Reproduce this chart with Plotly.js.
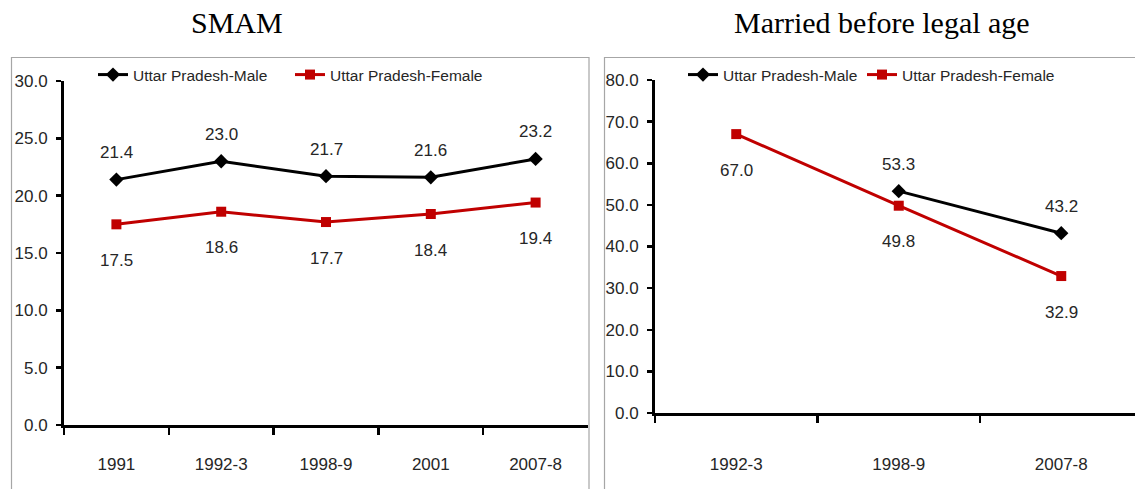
<!DOCTYPE html>
<html>
<head>
<meta charset="utf-8">
<script src="https://cdn.plot.ly/plotly-3.0.1.min.js"></script>
<style>
html,body{margin:0;padding:0;background:#fff;}
#chart{width:1135px;height:489px;}
</style>
</head>
<body>
<div id="chart"></div>
<script>
// ---- data ----
const titleLeft = 'SMAM';
const titleRight = 'Married before legal age';
const seriesNames = ['Uttar Pradesh-Male', 'Uttar Pradesh-Female'];

const catsLeft = ['1991', '1992-3', '1998-9', '2001', '2007-8'];
const maleLeft = [21.4, 23.0, 21.7, 21.6, 23.2];
const femaleLeft = [17.5, 18.6, 17.7, 18.4, 19.4];
const yTicksLeft = [0, 5, 10, 15, 20, 25, 30];

const catsRight = ['1992-3', '1998-9', '2007-8'];
const maleRight = [null, 53.3, 43.2];
const femaleRight = [67.0, 49.8, 32.9];
const yTicksRight = [0, 10, 20, 30, 40, 50, 60, 70, 80];

// ---- style ----
const W = 1135, H = 489;
const FONT = '"Liberation Sans", Arial, sans-serif';
const SERIF = '"Liberation Serif", "Times New Roman", serif';
const MALE_COLOR = '#000000';
const FEMALE_COLOR = '#c00000';
const px = v => v / W;
const py = v => (H - v) / H;

function fmt(v) { return v.toFixed(1); }

function mk(cats, vals, name, xa, ya, leg, color, symbol, size) {
  return { x: cats, y: vals, name: name, xaxis: xa, yaxis: ya, legend: leg,
    mode: 'lines+markers', line: { color: color, width: 3 }, connectgaps: false,
    marker: { symbol: symbol, size: size, color: color }, hoverinfo: 'skip' };
}

const traces = [
  mk(catsLeft, maleLeft, seriesNames[0], 'x', 'y', 'legend', MALE_COLOR, 'diamond', 11),
  mk(catsLeft, femaleLeft, seriesNames[1], 'x', 'y', 'legend2', FEMALE_COLOR, 'square', 10),
  mk(catsRight, maleRight, seriesNames[0], 'x2', 'y2', 'legend3', MALE_COLOR, 'diamond', 11),
  mk(catsRight, femaleRight, seriesNames[1], 'x2', 'y2', 'legend4', FEMALE_COLOR, 'square', 10)
];

const annotations = [];
function addLabels(cats, vals, xr, yr, shift) {
  cats.forEach((c, i) => {
    if (vals[i] === null) return;
    annotations.push({ x: i, y: vals[i], xref: xr, yref: yr, text: fmt(vals[i]),
      showarrow: false, yshift: shift, font: { family: FONT, size: 17, color: '#262626' } });
  });
}
addLabels(catsLeft, maleLeft, 'x', 'y', 27);
addLabels(catsLeft, femaleLeft, 'x', 'y', -36);
addLabels(catsRight, maleRight, 'x2', 'y2', 27);
addLabels(catsRight, femaleRight, 'x2', 'y2', -36);

// panel titles
annotations.push({ text: titleLeft, x: px(237), y: py(22), xref: 'paper', yref: 'paper',
  showarrow: false, xanchor: 'center', yanchor: 'middle',
  font: { family: SERIF, size: 30, color: '#000' } });
annotations.push({ text: titleRight, x: px(882), y: py(22), xref: 'paper', yref: 'paper',
  showarrow: false, xanchor: 'center', yanchor: 'middle',
  font: { family: SERIF, size: 30, color: '#000' } });

const xCommon = {
  type: 'category', showgrid: false, zeroline: false, showline: true, linecolor: '#000', linewidth: 3,
  ticks: 'outside', tickson: 'boundaries', ticklen: 7, tickwidth: 2.5, tickcolor: '#000',
  tickfont: { family: FONT, size: 17, color: '#262626' }, fixedrange: true
};
const yCommon = {
  showgrid: false, zeroline: false, showline: true, linecolor: '#000', linewidth: 3,
  ticks: 'outside', ticklen: 5, tickwidth: 2.5, tickcolor: '#000', tickformat: '.1f',
  tickfont: { family: FONT, size: 17, color: '#262626' }, fixedrange: true, ticklabelstandoff: 5
};

function legendAt(xPix) {
  return { orientation: 'h', x: px(xPix), y: py(75), xanchor: 'left', yanchor: 'middle',
    bgcolor: 'rgba(0,0,0,0)', borderwidth: 0, font: { family: FONT, size: 15.5, color: '#262626' },
    itemclick: false, itemdoubleclick: false };
}

const layout = {
  width: W, height: H,
  margin: { l: 0, r: 0, t: 0, b: 0 },
  paper_bgcolor: '#ffffff', plot_bgcolor: 'rgba(0,0,0,0)',
  showlegend: true,
  xaxis: Object.assign({}, xCommon, { domain: [px(64), px(588)], range: [-0.5, catsLeft.length - 0.5],
    anchor: 'y', ticklabelstandoff: 22 }),
  yaxis: Object.assign({}, yCommon, { domain: [py(425), py(81)], range: [0, 30], tickvals: yTicksLeft, anchor: 'x' }),
  xaxis2: Object.assign({}, xCommon, { domain: [px(655), 1], range: [-0.5, -0.5 + (W - 655) / 162.5],
    anchor: 'y2', ticklabelstandoff: 34 }),
  yaxis2: Object.assign({}, yCommon, { domain: [py(413), py(80)], range: [0, 80], tickvals: yTicksRight, anchor: 'x2' }),
  legend: legendAt(93),
  legend2: legendAt(290),
  legend3: legendAt(683),
  legend4: legendAt(862),
  annotations: annotations,
  shapes: [
    { type: 'rect', xref: 'paper', yref: 'paper', x0: px(11.5), x1: px(589), y0: -0.01, y1: py(57.5),
      line: { color: '#a6a6a6', width: 1.2 }, layer: 'below' },
    { type: 'rect', xref: 'paper', yref: 'paper', x0: px(604.5), x1: 1.01, y0: -0.01, y1: py(57.5),
      line: { color: '#a6a6a6', width: 1.2 }, layer: 'below' }
  ]
};

Plotly.newPlot('chart', traces, layout, { displayModeBar: false, staticPlot: true });
</script>
</body>
</html>
